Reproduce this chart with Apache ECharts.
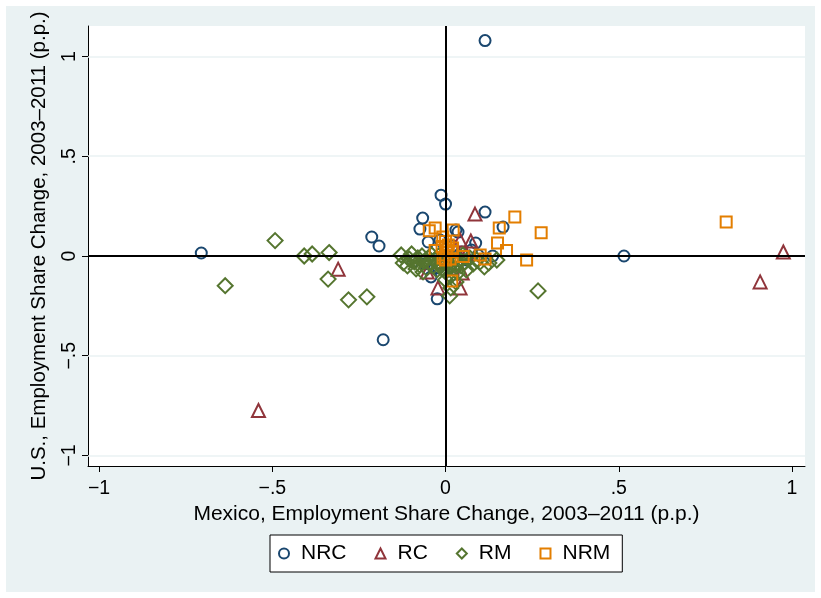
<!DOCTYPE html>
<html>
<head>
<meta charset="UTF-8">
<title>Employment share change</title>
<script src="https://cdn.jsdelivr.net/npm/echarts@6/dist/echarts.min.js"></script>
<style>
  html, body { margin: 0; padding: 0; background: #fff; }
</style>
</head>
<body>
    <div id="main" style="width: 821px; height: 598px;"></div>
    <script>
        // values: [mexico change, us change]
        var seriesNames = ['NRC', 'RC', 'RM', 'NRM'];
        var tickValues = [-1, -0.5, 0, 0.5, 1];

        var nrc = [
            [0.114, 1.08], [-0.705, 0.015], [0.515, 0.0], [-0.18, -0.42], [-0.013, 0.305],
            [0.0, 0.26], [0.114, 0.22], [-0.066, 0.19], [-0.074, 0.135], [-0.213, 0.095],
            [-0.192, 0.05], [0.166, 0.145], [-0.05, 0.07], [0.03, 0.13], [0.036, 0.12],
            [-0.016, 0.08], [0.136, 0.0], [-0.042, -0.105], [-0.024, -0.215], [0.047, 0.02],
            [-0.094, -0.03], [0.087, 0.065], [0.094, 0.005], [-0.03, 0.03], [0.02, 0.05],
            [-0.06, -0.04], [0.06, -0.02], [0.01, 0.0], [-0.02, -0.06], [0.075, 0.03]
        ];
        var rc = [
            [-0.54, -0.775], [0.975, 0.02], [0.908, -0.13], [-0.31, -0.066], [0.085, 0.21],
            [0.042, 0.08], [0.073, 0.075], [-0.022, -0.16], [0.042, -0.16], [0.048, -0.085],
            [-0.053, -0.08], [0.018, -0.06], [0.03, 0.04], [-0.01, -0.03], [0.06, 0.01]
        ];
        var rm = [
            [-0.492, 0.077], [-0.636, -0.149], [-0.408, 0.0], [-0.385, 0.01], [-0.336, 0.017],
            [-0.339, -0.116], [-0.28, -0.22], [-0.227, -0.205], [0.267, -0.175], [0.012, -0.2],
            [-0.128, 0.005], [-0.122, -0.035], [-0.098, 0.01], [-0.105, -0.015], [-0.09, -0.03],
            [-0.08, -0.01], [-0.075, -0.045], [-0.068, 0.0], [-0.06, -0.025], [-0.055, -0.06],
            [-0.05, -0.01], [-0.045, -0.035], [-0.04, 0.005], [-0.035, -0.05], [-0.03, -0.02],
            [-0.025, -0.07], [-0.02, 0.0], [-0.015, -0.04], [-0.01, -0.06], [-0.005, -0.02],
            [0.0, -0.08], [0.005, -0.03], [0.01, -0.05], [0.015, -0.1], [0.02, -0.015],
            [0.025, -0.065], [0.03, -0.04], [0.035, -0.085], [0.04, -0.02], [0.045, -0.05],
            [0.05, 0.005], [0.055, -0.03], [0.06, -0.07], [0.07, -0.01], [0.08, -0.04],
            [0.09, -0.02], [0.1, -0.03], [0.112, -0.055], [0.125, -0.035], [0.148, -0.02],
            [0.015, -0.16], [-0.11, -0.05], [-0.085, -0.065], [-0.065, -0.08], [0.0, -0.12],
            [0.03, -0.13]
        ];
        var nrm = [
            [0.81, 0.17], [0.2, 0.195], [0.276, 0.117], [0.155, 0.14], [0.15, 0.065],
            [0.176, 0.027], [0.234, -0.02], [0.1, 0.005], [0.114, -0.015], [0.051, -0.003],
            [0.018, -0.125], [-0.047, 0.127], [-0.03, 0.14], [0.022, 0.13], [0.0, 0.072],
            [0.008, 0.055], [-0.01, 0.047], [-0.03, 0.027], [0.003, 0.03], [-0.007, -0.01],
            [0.013, -0.015], [0.001, 0.005], [0.018, 0.022], [-0.008, 0.095], [0.02, 0.04],
            [0.0, -0.02]
        ];

        var colors = ['#1a476f', '#90353b', '#55752f', '#e37e00'];
        var symbols = ['circle', 'triangle', 'diamond', 'rect'];
        var sizes = [11, 13, 15, 11];
        var allData = [nrc, rc, rm, nrm];
        var font = 'Liberation Sans, Arial, sans-serif';

        function fmt(v) {
            if (v === 0) return '0';
            var s = String(Math.abs(v)).replace(/^0\./, '.');
            return (v < 0 ? '\u2212' : '') + s;
        }

        var series = [{
            // reference lines only
            type: 'scatter',
            data: [],
            silent: true,
            markLine: {
                silent: true,
                symbol: 'none',
                label: { show: false },
                animation: false,
                data: [
                    { yAxis: -1, lineStyle: { color: '#eaf2f3', width: 1.5, type: 'solid' } },
                    { yAxis: -0.5, lineStyle: { color: '#eaf2f3', width: 1.5, type: 'solid' } },
                    { yAxis: 0.5, lineStyle: { color: '#eaf2f3', width: 1.5, type: 'solid' } },
                    { yAxis: 1, lineStyle: { color: '#eaf2f3', width: 1.5, type: 'solid' } },
                    { yAxis: 0, lineStyle: { color: '#000', width: 2, type: 'solid' } },
                    { xAxis: 0, lineStyle: { color: '#000', width: 2, type: 'solid' } }
                ]
            }
        }];
        seriesNames.forEach(function (name, i) {
            series.push({
                name: name,
                type: 'scatter',
                data: allData[i],
                symbol: symbols[i],
                symbolSize: sizes[i],
                itemStyle: { color: 'rgba(0,0,0,0)', borderColor: colors[i], borderWidth: 2, opacity: 1 }
            });
        });

        var myChart = echarts.init(document.getElementById('main'));
        var option = {
            animation: false,
            backgroundColor: '#fff',
            graphic: [{
                type: 'rect',
                shape: { x: 6, y: 6, width: 809, height: 586 },
                style: { fill: '#eaf2f3' },
                z: -10,
                silent: true
            }],
            grid: {
                left: 88, right: 16, top: 26, bottom: 132,
                show: true, backgroundColor: '#fff', borderWidth: 0
            },
            legend: {
                data: seriesNames,
                left: 270, top: 535,
                orient: 'horizontal',
                backgroundColor: '#fff',
                borderColor: '#000',
                borderWidth: 1,
                borderRadius: 0,
                padding: [8, 12, 8, 8],
                itemGap: 28,
                itemWidth: 10,
                itemHeight: 10,
                textStyle: { color: '#000', fontSize: 21, fontFamily: font, padding: [0, 0, 0, 7] }
            },
            xAxis: {
                type: 'value',
                min: -1.032, max: 1.0375,
                name: 'Mexico, Employment Share Change, 2003\u20132011 (p.p.)',
                nameLocation: 'middle',
                nameGap: 36,
                nameTextStyle: { color: '#000', fontSize: 21, fontFamily: font },
                axisLine: { show: true, onZero: false, lineStyle: { color: '#000', width: 1 } },
                axisTick: { show: true, length: 6, lineStyle: { color: '#000' }, customValues: tickValues },
                axisLabel: { color: '#000', fontSize: 19.5, fontFamily: font, margin: 13, customValues: tickValues, formatter: fmt },
                splitLine: { show: false }
            },
            yAxis: {
                type: 'value',
                min: -1.053, max: 1.153,
                name: 'U.S., Employment Share Change, 2003\u20132011 (p.p.)',
                nameLocation: 'middle',
                nameGap: 38,
                nameTextStyle: { color: '#000', fontSize: 20.5, fontFamily: font },
                axisLine: { show: true, onZero: false, lineStyle: { color: '#000', width: 1 } },
                axisTick: { show: true, length: 6, lineStyle: { color: '#000' }, customValues: tickValues },
                axisLabel: { color: '#000', fontSize: 19.5, fontFamily: font, margin: 8, rotate: 90, customValues: tickValues, formatter: fmt },
                splitLine: { show: false }
            },
            series: series
        };
        myChart.setOption(option);
    </script>
</body>
</html>
